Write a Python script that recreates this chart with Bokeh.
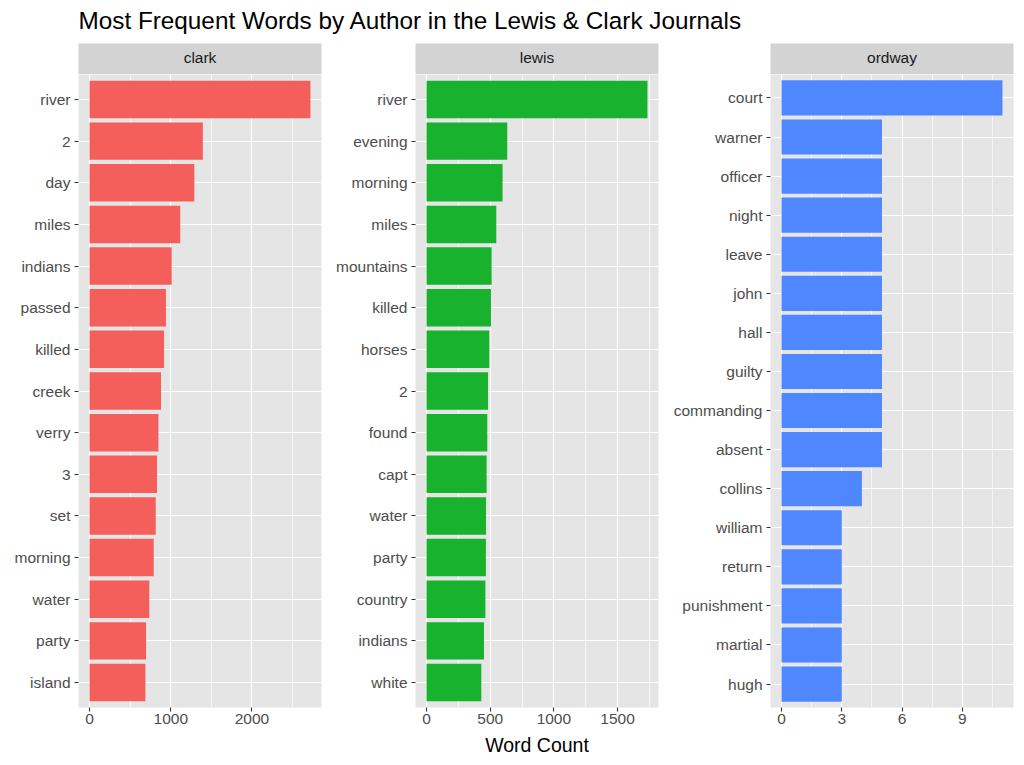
from bokeh.plotting import figure
from bokeh.models import FactorRange, Range1d, FixedTicker, ColumnDataSource
from bokeh.layouts import row, column
from bokeh.embed import file_html
from bokeh.resources import INLINE
from bokeh.core.properties import value

title_text = "Most Frequent Words by Author in the Lewis & Clark Journals"
authors = ["clark", "lewis", "ordway"]
colors = ["#F45F5B", "#19B22F", "#4F87FF"]

clark_words = ["river", "2", "day", "miles", "indians", "passed", "killed", "creek",
               "verry", "3", "set", "morning", "water", "party", "island"]
clark_counts = [2720, 1395, 1290, 1117, 1011, 941, 917, 880, 848, 831, 815, 790, 736, 696, 688]

lewis_words = ["river", "evening", "morning", "miles", "mountains", "killed", "horses", "2",
               "found", "capt", "water", "party", "country", "indians", "white"]
lewis_counts = [1735, 634, 597, 548, 511, 506, 493, 483, 477, 472, 467, 466, 462, 451, 430]

ordway_words = ["court", "warner", "officer", "night", "leave", "john", "hall", "guilty",
                "commanding", "absent", "collins", "william", "return", "punishment",
                "martial", "hugh"]
ordway_counts = [11, 5, 5, 5, 5, 5, 5, 5, 5, 5, 4, 3, 3, 3, 3, 3]

x_major = [[0, 1000, 2000], [0, 500, 1000, 1500], [0, 3, 6, 9]]
x_minor = [[500, 1500, 2500], [250, 750, 1250, 1750], [1.5, 4.5, 7.5, 10.5]]
x_label = ["", "Word Count", ""]

FONT = "Liberation Sans"
PANEL_BG = "#E5E5E5"
STRIP_BG = "#D3D3D3"

frame_w = 243
frame_h = 633
borders = [(78, 9), (85, 4), (108, 3)]

data = [(clark_words, clark_counts), (lewis_words, lewis_counts), (ordway_words, ordway_counts)]

# title row
tfig = figure(width=1016, height=43, x_range=Range1d(0, 1016), y_range=Range1d(0, 43),
              output_backend="svg", toolbar_location=None,
              min_border_left=0, min_border_right=0, min_border_top=0, min_border_bottom=0)
tfig.axis.visible = False
tfig.grid.visible = False
tfig.outline_line_color = None
tfig.background_fill_color = "white"
tfig.text(x=[78], y=[23], text=[title_text], text_font=value(FONT), text_font_size="24.3px",
          text_color="black", text_baseline="middle", text_align="left")

cols = []
for i, (words, counts) in enumerate(data):
    bl, br = borders[i]
    mx = max(counts)
    pad = mx * 0.05
    # facet strip
    s = figure(width=bl + frame_w + br, height=31, x_range=Range1d(0, 1), y_range=Range1d(0, 1),
               output_backend="svg", toolbar_location=None,
               min_border_left=bl, min_border_right=br, min_border_top=0, min_border_bottom=0)
    s.axis.visible = False
    s.grid.visible = False
    s.outline_line_color = None
    s.background_fill_color = STRIP_BG
    s.text(x=[0.5], y=[0.56], text=[authors[i]], text_font=value(FONT), text_font_size="15.5px",
           text_color="#1A1A1A", text_align="center", text_baseline="middle")

    factors = list(reversed(words))
    p = figure(width=bl + frame_w + br, height=frame_h + 56,
               y_range=FactorRange(factors=factors, range_padding=0.1, range_padding_units="absolute"),
               x_range=Range1d(-pad, mx + pad),
               output_backend="svg", toolbar_location=None,
               min_border_left=bl, min_border_right=br, min_border_top=0, min_border_bottom=56)
    src = ColumnDataSource(dict(word=words, count=counts))
    p.background_fill_color = PANEL_BG
    p.border_fill_color = "white"
    p.outline_line_color = None

    p.xaxis.ticker = FixedTicker(ticks=x_major[i], minor_ticks=x_minor[i])
    p.xgrid.grid_line_color = "white"
    p.xgrid.grid_line_width = 1.2
    p.xgrid.minor_grid_line_color = "white"
    p.xgrid.minor_grid_line_width = 0.6
    p.ygrid.grid_line_color = "white"
    p.ygrid.grid_line_width = 1.2

    p.hbar(y="word", left=0, right="count", height=0.9, source=src,
           fill_color=colors[i], line_color=None)

    for ax in (p.xaxis, p.yaxis):
        ax.axis_line_color = None
        ax.major_tick_line_color = "#333333"
        ax.major_tick_line_width = 1.1
        ax.major_tick_out = 4
        ax.major_tick_in = 0
        ax.minor_tick_line_color = None
        ax.major_label_text_font = FONT
        ax.major_label_text_font_size = "15.5px"
        ax.major_label_text_color = "#4D4D4D"
    p.xaxis.major_label_standoff = 2
    p.yaxis.major_label_standoff = 4
    if x_label[i]:
        p.xaxis.axis_label = x_label[i]
        p.xaxis.axis_label_text_font = FONT
        p.xaxis.axis_label_text_font_size = "19.5px"
        p.xaxis.axis_label_text_font_style = "normal"
        p.xaxis.axis_label_text_color = "black"
        p.xaxis.axis_label_standoff = 7
    cols.append(column(s, p, spacing=0))

layout = column(tfig, row(*cols, spacing=0), spacing=0)

open("out.html", "w").write(file_html(layout, INLINE))
